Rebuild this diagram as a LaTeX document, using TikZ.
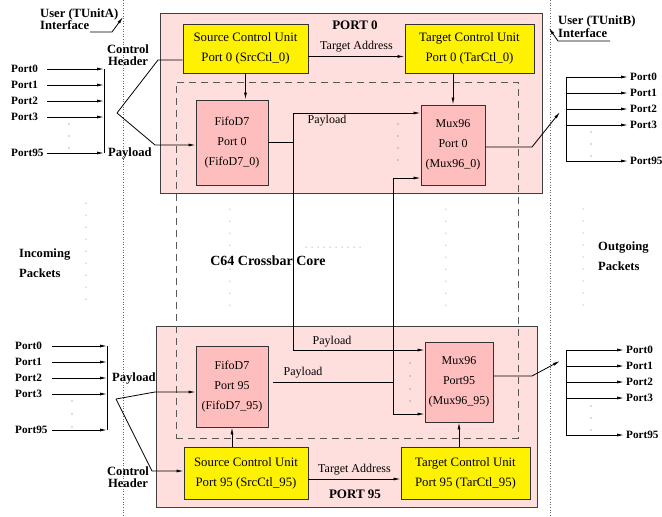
\documentclass[tikz,border=0pt]{standalone}
\usepackage{fontspec}
\setmainfont{Liberation Serif}
\usetikzlibrary{arrows.meta}

\definecolor{portpink}{RGB}{255,222,222}
\definecolor{unitpink}{RGB}{255,190,190}

\begin{document}
\begin{tikzpicture}
[
  x=1pt, y=-1pt,
  >={Latex[length=7pt,width=3pt]},
  every node/.style={font=\fontsize{12}{20}\selectfont, inner sep=0pt},
  portbox/.style={draw=black!75, line width=0.9pt, fill=portpink},
  ctrlbox/.style={draw=black!80, line width=0.9pt, fill=yellow, align=center,
    font=\fontsize{12.8}{20}\selectfont},
  unitbox/.style={draw=black!80, line width=0.9pt, fill=unitpink, align=center},
  core/.style={draw=black!65, line width=0.9pt, dash pattern=on 7pt off 5pt},
  lbl/.style={font=\fontsize{12.6}{12.5}\selectfont\bfseries, align=center},
  plbl/.style={font=\fontsize{11.2}{12}\selectfont\bfseries, anchor=west, inner sep=2pt},
  wire/.style={line width=0.8pt},
  rail/.style={black!60, dotted, line width=0.6pt}
]
\useasboundingbox (0,0) rectangle (662,517);

% user interface rails
\draw[rail] (123,0) -- (123,517);
\draw[rail] (550,0) -- (550,517);

% port boxes and core
\node[portbox, minimum width=382pt, minimum height=180pt] (port0) at (351,103) {};
\node[portbox, minimum width=381pt, minimum height=181pt] (port95) at (346.5,416.5) {};
\node[core, minimum width=342pt, minimum height=356pt] (corebox) at (347,260) {};

\node[lbl, font=\fontsize{13}{13}\selectfont\bfseries] (port0lbl) at (355,25) {PORT 0};
\node[lbl, font=\fontsize{13}{13}\selectfont\bfseries] (port95lbl) at (355,494) {PORT 95};

% control units
\node[ctrlbox, minimum width=125pt, minimum height=49pt] (src0) at (245.5,48.5)
  {Source Control Unit\\Port 0 (SrcCtl\_0)};
\node[ctrlbox, minimum width=129pt, minimum height=49pt] (tar0) at (469.5,48.5)
  {Target Control Unit\\Port 0 (TarCtl\_0)};
\node[ctrlbox, minimum width=124pt, minimum height=52pt] (src95) at (246,473)
  {Source Control Unit\\Port 95 (SrcCtl\_95)};
\node[ctrlbox, minimum width=129pt, minimum height=52pt] (tar95) at (465.5,473)
  {Target Control Unit\\Port 95 (TarCtl\_95)};

% fifo and mux units
\node[unitbox, minimum width=72pt, minimum height=85pt] (fifo0) at (232,142.5)
  {FifoD7\\Port 0\\(FifoD7\_0)};
\node[unitbox, minimum width=64pt, minimum height=80pt] (mux0) at (453,145)
  {Mux96\\Port 0\\(Mux96\_0)};
\node[unitbox, minimum width=72pt, minimum height=81pt] (fifo95) at (232,386.5)
  {FifoD7\\Port 95\\(FifoD7\_95)};
\node[unitbox, minimum width=68pt, minimum height=80pt] (mux95) at (459,382)
  {Mux96\\Port95\\(Mux96\_95)};

% target address
\draw[->, wire] ([yshift=-8pt]src0.east) -- ([yshift=-8pt]src0.east -| tar0.west)
  node[midway, above=4pt] (ta0) {Target Address};
\draw[->, wire] ([yshift=-6pt]src95.east) -- ([yshift=-6pt]src95.east -| tar95.west)
  node[midway, above=4pt] (ta95) {Target Address};

\draw[->, wire] (src0.south) -- (src0.south |- fifo0.north);
\draw[->, wire] (mux0.north |- tar0.south) -- (mux0.north);
\draw[->, wire] (fifo95.south |- src95.north) -- (fifo95.south);
\draw[->, wire] (mux95.south |- tar95.north) -- (mux95.south);

% crossbar payload wires
\coordinate (busA) at (293,113);
\coordinate (busA2) at (293,350);
\coordinate (busB) at (393,178);
\coordinate (busB2) at (393,414);

\draw[wire] (fifo0.east) -- (fifo0.east -| busA);
\draw[->, wire] (busA2) -- (busA) -- (busA -| mux0.west);
\draw[->, wire] (busA) -- (busA2) -- (busA2 -| mux95.west);
\draw[->, wire] (busB2) -- (busB) -- (busB -| mux0.west);
\draw[->, wire] (busB) -- (busB2) -- (busB2 -| mux95.west);
\draw[wire] ([xshift=5pt,yshift=4pt]fifo95.east) -- ([yshift=4pt]fifo95.east -| busB);

\node (pl0) at (327,121) {Payload};
\node (pl1) at (332,342) {Payload};
\node (pl2) at (303,373) {Payload};

% mux outputs
\coordinate (outA) at (560,112);
\coordinate (outB) at (560,361);
\draw[->, wire] ([yshift=-2pt]mux0.east) -- (532,147) -- (outA);
\draw[->, wire] ([yshift=6pt]mux95.east) -- (532,376) -- (outB);

% incoming ports
\coordinate (lbusA) at (104,0);
\coordinate (lbusB) at (107,0);
\foreach \p/\y in {0/69,1/85,2/101,3/117,95/153}
{
  \node[plbl, text width=34pt] (ia\p) at (9,\y) {Port\p};
  \draw[->, wire] (ia\p.east) -- (ia\p.east -| lbusA);
}
\draw[wire] (ia0.east -| lbusA) -- (ia95.east -| lbusA);
\foreach \p/\y in {0/346,1/362,2/378,3/394,95/430}
{
  \node[plbl, text width=35pt] (ib\p) at (13,\y) {Port\p};
  \draw[->, wire] (ib\p.east) -- (ib\p.east -| lbusB);
}
\draw[wire] (ib0.east -| lbusB) -- (ib95.east -| lbusB);

% outgoing ports
\coordinate (rbus) at (566,0);
\foreach \p/\y in {0/77,1/93,2/109,3/125,95/161}
{
  \node[plbl] (oa\p) at (628,\y) {Port\p};
  \draw[->, wire] (oa\p.west -| rbus) -- (oa\p.west);
}
\draw[wire] (oa0.west -| rbus) -- (oa95.west -| rbus);
\foreach \p/\y in {0/350,1/366,2/382,3/398,95/435}
{
  \node[plbl] (ob\p) at (624,\y) {Port\p};
  \draw[->, wire] (ob\p.west -| rbus) -- (ob\p.west);
}
\draw[wire] (ob0.west -| rbus) -- (ob95.west -| rbus);

% control header / payload split
\coordinate (forkA) at (117,113);
\coordinate (ctlA) at (158,60);
\coordinate (payA) at (155,145);
\draw[wire] (forkA) -- (ctlA) -- (ctlA -| src0.west);
\draw[->, wire] (forkA) -- (payA) -- (payA -| fifo0.west);
\coordinate (forkB) at (116,399);
\coordinate (payB) at (155,392);
\coordinate (ctlB) at (152,471);
\draw[->, wire] (forkB) -- (payB) -- (payB -| fifo95.west);
\draw[->, wire] (forkB) -- (ctlB) -- (ctlB -| src95.west);

\node[lbl] (hdrA) at (128,55) {Control\\Header};
\node[lbl, anchor=west] (pyA) at (108,153) {Payload};
\node[lbl, anchor=west] (pyB) at (112,378) {Payload};
\node[lbl] (hdrB) at (128,477) {Control\\Header};

% user interfaces
\node[lbl, align=left, anchor=west] (userA) at (40,19) {User (TUnitA)\\Interface};
\node[lbl, align=left, anchor=west] (userB) at (558,26.5) {User (TUnitB)\\Interface};
\coordinate (railA) at (123,17);
\coordinate (railB) at (549,28);
\draw[->, wire] (90,32) -- (112,32) -- (railA);
\draw[->, wire] (610,41) -- (558,41) -- (railB);

% packets and core
\node[lbl, align=left, anchor=west] (inpk) at (19,263) {Incoming\\[7.5pt]Packets};
\node[lbl, align=left, anchor=west] (outpk) at (598,256) {Outgoing\\[7.5pt]Packets};
\node[font=\fontsize{14}{14}\selectfont\bfseries] (corelbl) at (268,261) {C64 Crossbar Core};

% dots
\foreach \y in {124,136,148} \fill[black!60] (69,\y) circle (0.6pt);
\foreach \y in {401,414,427} \fill[black!60] (72,\y) circle (0.6pt);
\foreach \y in {132,144,156} \fill[black!60] (591,\y) circle (0.6pt);
\foreach \y in {406,418,430} \fill[black!60] (591,\y) circle (0.6pt);
\foreach \y in {124,136,148,160} \fill[black!60] (398,\y) circle (0.6pt);
\foreach \y in {363,376,389,401} \fill[black!60] (410,\y) circle (0.6pt);
\foreach \i in {0,...,8}
{
  \fill[black!60] (86,203+12*\i) circle (0.5pt);
  \fill[black!60] (230,209+12*\i) circle (0.5pt);
  \fill[black!60] (446,209+12*\i) circle (0.5pt);
  \fill[black!60] (583,209+12*\i) circle (0.5pt);
}
\foreach \x in {306,312,...,360} \fill[black!60] (\x,247) circle (0.5pt);

\end{tikzpicture}
\end{document}
